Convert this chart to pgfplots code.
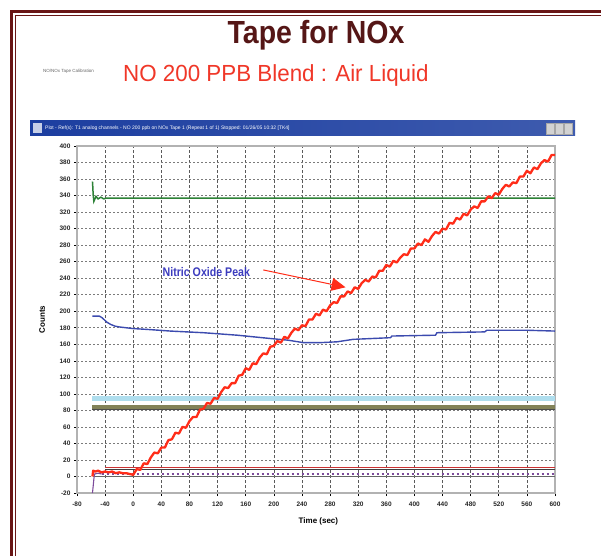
\documentclass[border=0pt]{standalone}
\usepackage{fontspec}
\setmainfont{Liberation Sans}
\usepackage{pgfplots}
\pgfplotsset{compat=1.18}
\usetikzlibrary{arrows.meta}
\definecolor{maroon}{RGB}{105,22,22}
\definecolor{titlecol}{RGB}{85,22,22}
\definecolor{subred}{RGB}{240,55,40}
\definecolor{nored}{RGB}{255,45,25}
\definecolor{gline}{RGB}{45,130,55}
\definecolor{bline}{RGB}{60,75,175}
\definecolor{cyanband}{RGB}{175,222,238}
\definecolor{oliveband}{RGB}{130,130,88}
\definecolor{winblue}{RGB}{28,62,160}
\definecolor{purp}{RGB}{125,75,155}
\definecolor{annot}{RGB}{60,60,190}
\definecolor{gridc}{RGB}{90,90,90}

\pgfplotstableread{
x y
-58 0
-57 7
-54 6
-50 7
-45 5
-40 6
-35 5
-30 6
-25 4
-20 5
-15 4
-10 4
-5 3
0 2
5 9
10 8
15 16
20 15
25 23
30 29
35 28
40 35
45 35
50 44
55 45
60 53
65 52
70 60
75 59
80 67
85 72
90 72
95 81
100 82
105 89
110 88
115 95
120 94
125 102
130 108
135 107
140 113
145 113
150 122
155 123
160 131
165 129
170 137
175 136
180 144
185 149
190 148
195 157
200 158
205 164
210 162
215 169
220 167
225 174
230 179
235 177
240 183
245 182
250 190
255 190
260 197
265 195
270 202
275 200
280 207
285 211
290 210
295 218
300 218
305 224
310 222
315 229
320 227
325 234
330 238
335 236
340 242
345 241
350 249
355 249
360 256
365 254
370 261
375 259
380 265
385 269
390 268
395 276
400 276
405 282
410 280
415 287
420 284
425 291
430 296
435 294
440 300
445 299
450 307
455 306
460 313
465 311
470 318
475 316
480 323
485 327
490 325
495 333
500 333
505 339
510 337
515 343
520 341
525 348
530 353
535 351
540 356
545 355
550 363
555 363
560 370
565 367
570 374
575 372
580 379
585 383
590 381
595 389
600 389
}\redtab

\pgfplotstableread{
x y
-58 194
-48 194
-44 192
-38 187
-32 184
-26 182
-20 181
-10 180
0 179
20 178
53 176
100 174
148 171
195 167
220 165
242 162
266 162
290 163
313 166
340 167
366 168
368 170
430 171
432 174
500 175
503 177
560 177
600 176
}\bluetab

\pgfplotstableread{
x y
-58 357
-57.5 350
-57 341
-56 333
-55 335
-53 339
-50 336
-46 338
-42 336
-38 337
-30 337
0 337
300 337
600 337
}\greentab

\begin{document}
\begin{tikzpicture}
\begin{scope}[x=1pt,y=1pt]
\path[use as bounding box] (0,0) rectangle (601,555);
\fill[white] (0,0) rectangle (601,555);
\clip (0,0) rectangle (601,555);
% slide border
\draw[maroon, line width=3.2] (11.5,-10) -- (11.5,543.5) -- (620,543.5);
\draw[maroon, line width=0.9] (15,-10) -- (15,540) -- (620,540);
% titles
\node[font=\fontsize{32}{36}\selectfont\bfseries, text=titlecol, xscale=0.89, anchor=base, inner sep=0] at (316,511.7) {Tape for NOx};
\node[font=\fontsize{23.3}{28}\selectfont, text=subred, xscale=0.96, anchor=base west, inner sep=0] at (123,473.3) {NO 200 PPB Blend : Air Liquid};
\node[font=\fontsize{4.5}{5}\selectfont, text=gray!80!black, anchor=west, inner sep=0] at (43,483.3) {NO/NOx Tape Calibration};
% window title bar
\shade[left color=winblue, right color=winblue!85!white] (30,419) rectangle (575,434.3);
\fill[white!75!winblue] (33,421.5) rectangle (42,431.5);
\node[font=\fontsize{5}{6}\selectfont, text=white, anchor=west, inner sep=0] at (45,426.6) {Plot - Ref(s): T1 analog channels - NO 200 ppb on NOx Tape 1 (Repeat 1 of 1) Stopped: 01/26/05 10:32 [TK4]};
\foreach \bx in {546,555,564}{
  \fill[gray!35] (\bx,421) rectangle (\bx+8,432);
  \draw[gray!70, line width=0.4] (\bx,421) rectangle (\bx+8,432);
}
\end{scope}
\begin{axis}[
  at={(77pt,62pt)}, anchor=south west,
  scale only axis, width=478pt, height=347pt,
  xmin=-80, xmax=600, ymin=-20, ymax=400,
  xtick={-80,-40,...,600}, ytick={-20,0,...,400},
  /pgf/number format/assume math mode=true,
  ticklabel style={font=\fontsize{6.5}{7}\selectfont\bfseries, text=black!85},
  xticklabel style={yshift=-2pt},
  tick align=outside, major tick length=3pt,
  xtick pos=left, ytick pos=left,
  tick style={black, line width=0.6pt},
  axis line style={draw=gray!60, line width=1.3pt},
  xmajorgrids, ymajorgrids,
  x grid style={gridc, dash pattern=on 3pt off 2pt, line width=0.6pt},
  y grid style={gridc!80, dash pattern=on 2pt off 2pt, line width=0.55pt},
  xlabel={Time (sec)}, ylabel={Counts},
  xlabel style={font=\fontsize{8}{9}\selectfont\bfseries, at={(axis description cs:0.505,-0.083)}, anchor=center},
  ylabel style={font=\fontsize{8}{9}\selectfont\bfseries, at={(axis description cs:-0.073,0.5)}, anchor=center, rotate=0},
  clip=true,
]
% horizontal bands
\addplot[cyanband, line width=5pt] coordinates {(-58,94) (600,94)};
\addplot[oliveband, line width=4.5pt] coordinates {(-58,84) (600,84)};
\addplot[gray!60!black, line width=0.5pt] coordinates {(-58,81.5) (600,81.5)};
% bottom lines
\addplot[red!60!gray, line width=0.8pt] coordinates {(-40,11) (600,11)};
\addplot[black!75, line width=1.1pt] coordinates {(-40,8) (600,8)};
\addplot[black!60, line width=0.9pt] coordinates {(-55,0) (600,0)};
\addplot[purp, line width=1.1pt] coordinates {(-58,-20) (-57,-12) (-56,-3) (-55,3) (-50,4) (-45,3)};
\addplot[purp, line width=1.1pt, dash pattern=on 2pt off 3pt] coordinates {(-45,3) (600,3)};
% main series
\addplot[gline, line width=1.5pt] table[x=x,y=y] {\greentab};
\addplot[bline, line width=1.4pt] table[x=x,y=y] {\bluetab};
\addplot[nored, line width=2.3pt, line join=round] table[x=x,y=y] {\redtab};
% annotation
\node[font=\fontsize{12.5}{14}\selectfont\bfseries, text=annot, xscale=0.85] at (axis cs:104,248) {Nitric Oxide Peak};
\draw[nored, line width=1pt, -{Triangle[length=14pt,width=13pt]}] (axis cs:185,250) -- (axis cs:302,229);
\end{axis}
\end{tikzpicture}
\end{document}
